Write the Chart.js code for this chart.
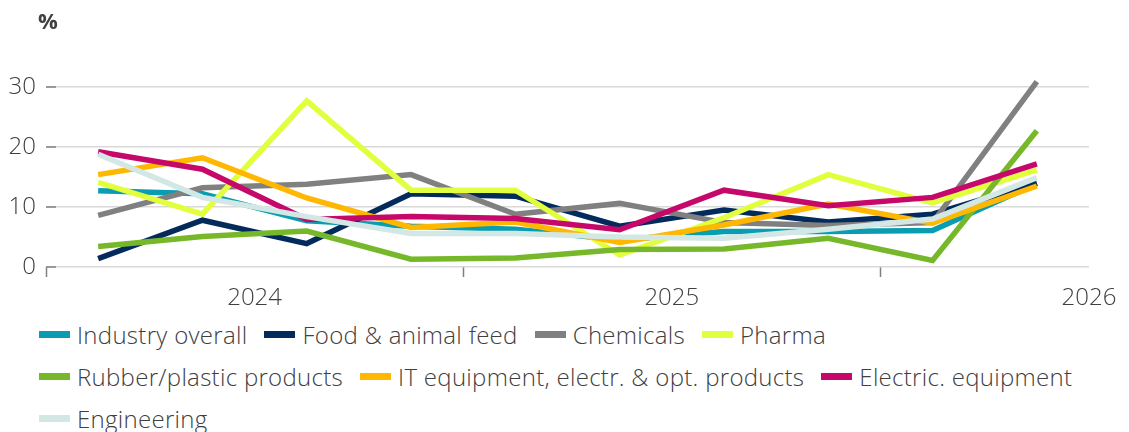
<!DOCTYPE html>
<html lang="en">
<head>
<meta charset="UTF-8">
<title>Industry sectors</title>
<script src="https://cdn.jsdelivr.net/npm/chart.js"></script>
<style>
  body {
    margin: 0;
    background: #fff;
    overflow: hidden;
    font-family: "Open Sans", sans-serif;
  }

  .chart-box {
    width: 1129px;
    height: 313px;
  }

  /* legend is built from the datasets below */
  .legend {
    display: flex;
    flex-wrap: wrap;
    width: 1129px;
    margin: 0;
    padding: 0 0 0 39px;
    box-sizing: border-box;
    list-style: none;
  }

  .legend li {
    display: flex;
    align-items: center;
    height: 42px;
    margin-right: 17px;
    font-size: 24px;
    font-weight: 300;
    letter-spacing: 0.3px;
    color: #404040;
    white-space: nowrap;
  }

  .legend .swatch {
    width: 31px;
    height: 7px;
    margin-right: 7px;
  }
</style>
</head>
<body>
<div class="chart-box">
  <canvas id="chart" width="1129" height="313"></canvas>
</div>
<ul class="legend" id="legend"></ul>

<script>
  // quarters, Q1 2024 .. Q2 2026
  const quarters = ['Q1 2024', 'Q2 2024', 'Q3 2024', 'Q4 2024', 'Q1 2025',
                    'Q2 2025', 'Q3 2025', 'Q4 2025', 'Q1 2026', 'Q2 2026'];
  const yearLabels = ['2024', '2025', '2026'];

  const industryOverall = [12.7, 12.2, 7.7, 6.8, 6.3, 4.5, 5.9, 5.9, 6.1, 13.9];
  const foodFeed        = [1.4, 7.8, 3.9, 12.2, 11.8, 6.8, 9.5, 7.5, 8.8, 14.0];
  const chemicals       = [8.6, 13.2, 13.8, 15.4, 8.8, 10.6, 7.4, 6.9, 7.4, 30.9];
  const pharma          = [14.1, 8.8, 27.7, 12.8, 12.8, 2.0, 8.2, 15.4, 10.7, 16.2];
  const rubberPlastic   = [3.4, 5.1, 6.0, 1.3, 1.5, 2.9, 3.0, 4.8, 1.1, 22.7];
  const itEquipment     = [15.4, 18.2, 11.5, 6.6, 7.5, 4.1, 7.0, 10.5, 7.3, 13.5];
  const electricEquip   = [19.2, 16.3, 7.9, 8.4, 8.1, 6.2, 12.8, 10.2, 11.6, 17.2];
  const engineering     = [18.8, 11.6, 8.4, 5.6, 5.6, 5.0, 4.8, 6.3, 8.0, 14.9];

  const series = [
    { label: 'Industry overall', color: '#0a9db2', data: industryOverall },
    { label: 'Food & animal feed', color: '#022a5b', data: foodFeed },
    { label: 'Chemicals', color: '#808080', data: chemicals },
    { label: 'Pharma', color: '#e1ff3d', data: pharma },
    { label: 'Rubber/plastic products', color: '#77b82b', data: rubberPlastic },
    { label: 'IT equipment, electr. & opt. products', color: '#ffb700', data: itEquipment },
    { label: 'Electric. equipment', color: '#c6086b', data: electricEquip },
    { label: 'Engineering', color: '#d3e8e5', data: engineering }
  ];

  const textColor = '#404040';
  const font = { family: '"Open Sans", sans-serif', size: 24, weight: 300 };

  // short tick marks inside the plot on the left, plus the "%" unit
  const axisMarks = {
    id: 'axisMarks',
    beforeDatasetsDraw(chart) {
      const { ctx, chartArea, scales: { y } } = chart;
      ctx.save();
      ctx.strokeStyle = '#808080';
      ctx.lineWidth = 1.5;
      y.ticks.forEach(t => {
        const py = y.getPixelForValue(t.value);
        ctx.beginPath();
        ctx.moveTo(chartArea.left, py);
        ctx.lineTo(chartArea.left + 10, py);
        ctx.stroke();
      });
      ctx.fillStyle = textColor;
      ctx.font = 'bold 22px "Open Sans", sans-serif';
      ctx.textBaseline = 'middle';
      ctx.fillText('%', chartArea.left - 8, 23);
      ctx.restore();
    }
  };

  const chart = new Chart(document.getElementById('chart'), {
    type: 'line',
    data: {
      datasets: series.map((s, i) => ({
        label: s.label,
        // each quarter sits in the middle of its slot
        data: s.data.map((v, j) => ({ x: j + 0.5, y: v, q: quarters[j] })),
        borderColor: s.color,
        backgroundColor: s.color,
        borderWidth: 5.5,
        pointRadius: 0,
        tension: 0,
        order: series.length - i // later series on top
      }))
    },
    options: {
      responsive: false,
      animation: false,
      layout: { padding: { top: 57, right: 40, bottom: 0, left: 0 } },
      plugins: {
        legend: { display: false },
        tooltip: { enabled: false }
      },
      scales: {
        x: {
          type: 'linear',
          min: 0,
          max: quarters.length,
          afterBuildTicks: scale => {
            scale.ticks = [0, 2, 4, 6, 8, 10].map(v => ({ value: v }));
          },
          afterFit: scale => { scale.height = 46; },
          ticks: {
            autoSkip: false,
            maxRotation: 0,
            padding: 7,
            color: textColor,
            font: font,
            callback: v => yearLabels[(v - 2) / 4] ?? ''
          },
          grid: {
            drawOnChartArea: false,
            drawTicks: true,
            tickLength: 10,
            tickWidth: 1.5,
            tickColor: c => (c.tick && c.tick.value % 4 === 0 && c.tick.value < quarters.length)
              ? '#808080' : 'rgba(0,0,0,0)'
          },
          border: { display: false }
        },
        y: {
          min: 0,
          max: 35,
          afterFit: scale => { scale.width = 46; },
          ticks: {
            stepSize: 5,
            padding: 10,
            color: textColor,
            font: font,
            callback: v => (v % 10 === 0 ? v : '')
          },
          grid: {
            color: '#d9d9d9',
            lineWidth: 1.5,
            drawTicks: false
          },
          border: { display: false }
        }
      }
    },
    plugins: [axisMarks]
  });

  // html legend in dataset order
  const legendEl = document.getElementById('legend');
  series.forEach(s => {
    const li = document.createElement('li');
    const sw = document.createElement('span');
    sw.className = 'swatch';
    sw.style.background = s.color;
    li.appendChild(sw);
    li.appendChild(document.createTextNode(s.label));
    legendEl.appendChild(li);
  });
</script>
</body>
</html>
